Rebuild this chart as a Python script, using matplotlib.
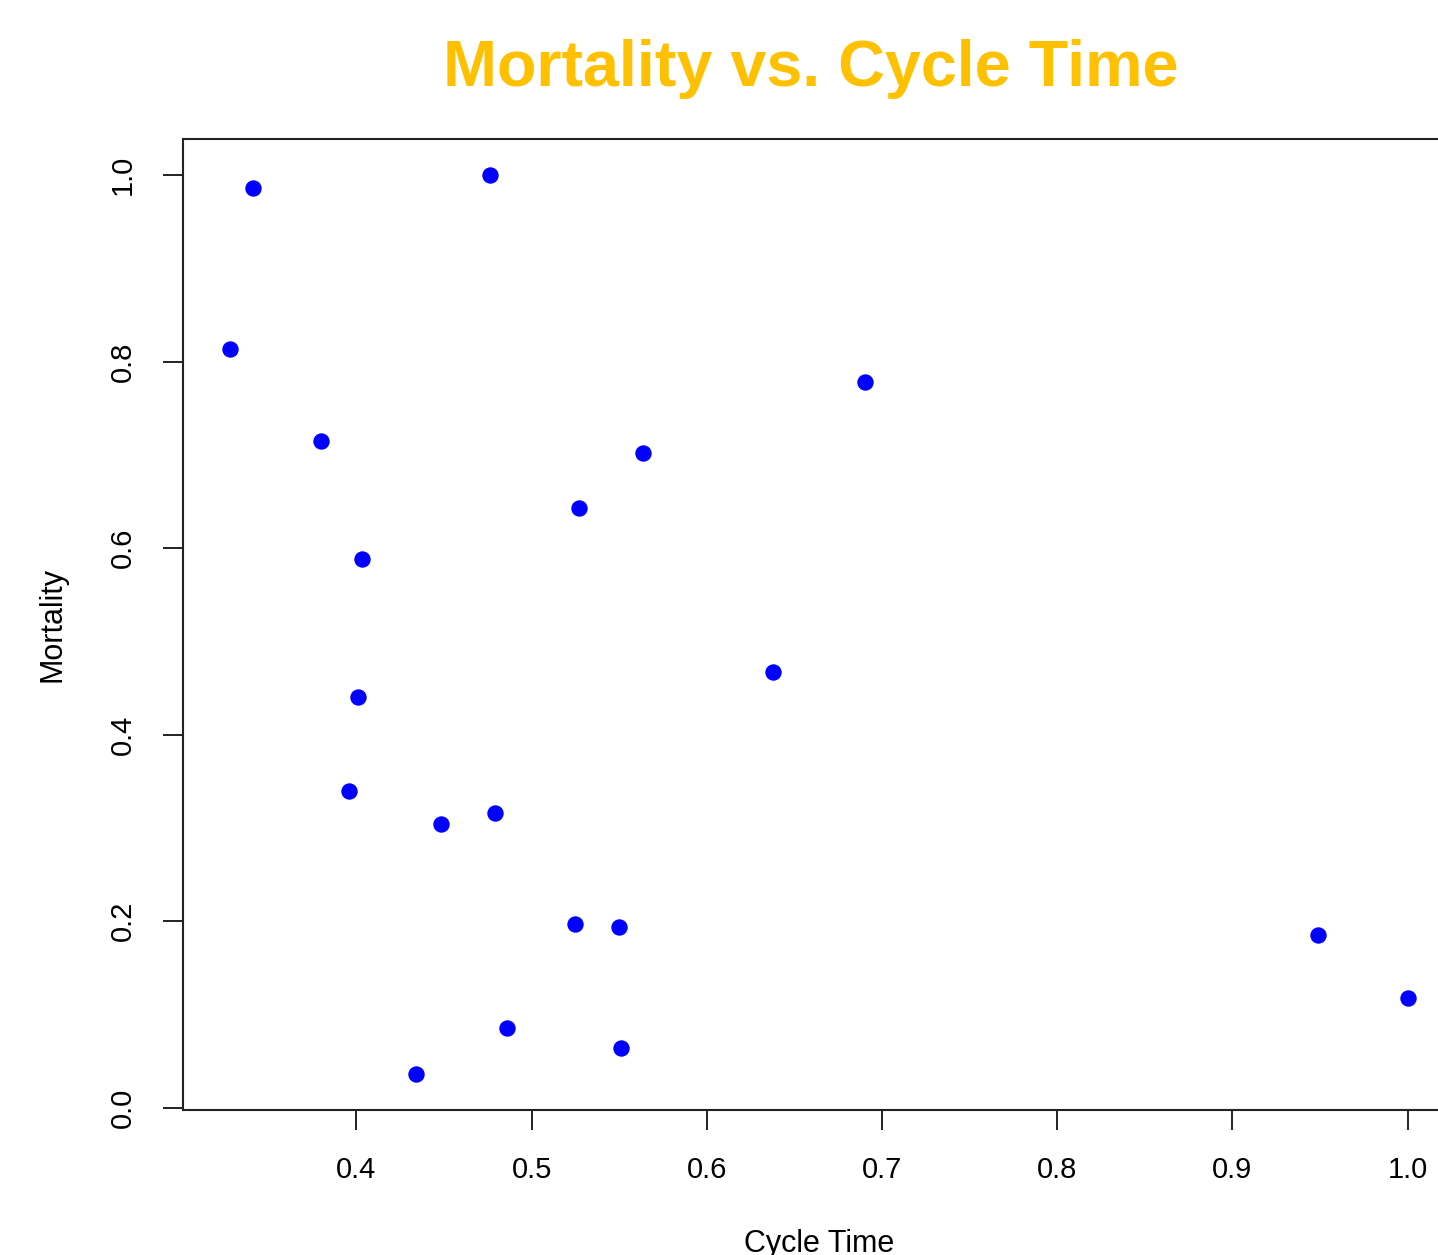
import matplotlib
matplotlib.use("Agg")
import matplotlib.pyplot as plt

plt.rcParams['font.family'] = ['Liberation Sans', 'DejaVu Sans']

cycle_time = [0.328, 0.341, 0.380, 0.403, 0.401, 0.396, 0.434, 0.448, 0.476, 0.479,
              0.486, 0.525, 0.527, 0.550, 0.551, 0.5635, 0.638, 0.690, 0.949, 1.0]
mortality = [0.8135, 0.986, 0.715, 0.588, 0.4405, 0.339, 0.036, 0.304, 1.0, 0.316,
             0.085, 0.197, 0.643, 0.194, 0.064, 0.702, 0.467, 0.778, 0.185, 0.118]

xticks = [0.4, 0.5, 0.6, 0.7, 0.8, 0.9, 1.0]
yticks = [0.0, 0.2, 0.4, 0.6, 0.8, 1.0]

fig = plt.figure(figsize=(14.38, 12.55), dpi=100)
ax = fig.add_axes([0.1273, 0.1155, 0.8845, 0.7737])

ax.plot(cycle_time, mortality, 'o', color='#0000ff', ms=10.8, mec='#0000ff')

ax.set_xlim(0.301, 1.027)
ax.set_ylim(-0.0026, 1.0386)
ax.set_xticks(xticks)
ax.set_yticks(yticks)
ax.set_xticklabels([f"{t:.1f}" for t in xticks])
ax.set_yticklabels([f"{t:.1f}" for t in yticks], rotation=90, va='center')

ax.tick_params(length=14.4, width=1.4, labelsize=21, pad=19, color='#222222')
for s in ax.spines.values():
    s.set_linewidth(1.5)
    s.set_color('#222222')

ax.set_xlabel('Cycle Time', fontsize=22, labelpad=32)
ax.set_ylabel('Mortality', fontsize=22, labelpad=30)

fig.text(0.564, 0.945, 'Mortality vs. Cycle Time', ha='center', va='center',
         fontsize=46.5, fontweight='bold', color='#ffc000')

fig.savefig('out.png', dpi=100)
